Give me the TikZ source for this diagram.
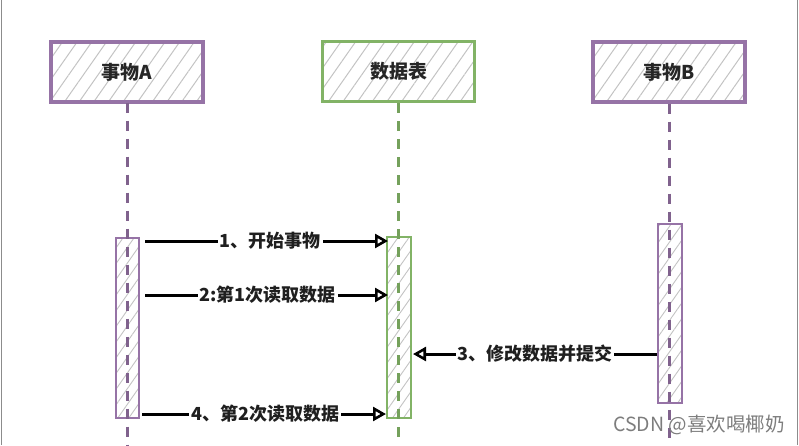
\documentclass[tikz,border=0pt]{standalone}
\usepackage{fontspec}
\newfontfamily\cjk{Noto Sans CJK SC}
\usetikzlibrary{arrows.meta,patterns.meta}
\definecolor{purp}{RGB}{150,115,166}
\definecolor{grn}{RGB}{130,179,102}
\definecolor{hatch}{RGB}{195,195,195}
\definecolor{wm}{RGB}{125,125,125}
\tikzset{
  hatched/.style={pattern={Lines[angle=55,distance=12pt,line width=1pt]},pattern color=hatch},
  hatchedsmall/.style={pattern={Lines[angle=55,distance=9pt,line width=0.9pt]},pattern color=hatch},
  headbox/.style={draw=#1,line width=3.2pt,hatched,minimum width=152pt,minimum height=60pt,
    inner sep=0pt,font=\cjk\bfseries\fontsize{19}{22}\selectfont,text=black!85},
  actbox/.style={draw=#1,line width=1.6pt,hatchedsmall,minimum width=23pt,inner sep=0pt},
  lifeline/.style={draw=#1,line width=3pt,dash pattern=on 10pt off 8pt},
  msg/.style={draw=black,line width=3pt,-{Triangle[open,length=13pt,width=14pt,line width=2.6pt,fill=white]}},
  msglabel/.style={fill=white,inner sep=2pt,text=black!88,font=\cjk\bfseries\fontsize{18}{21}\selectfont},
  border/.style={draw=black!45,line width=1pt}
}
\begin{document}
\begin{tikzpicture}[x=1pt,y=-1pt]
\useasboundingbox (0,0) rectangle (799,445);
% page edges
\coordinate (lt) at (1,0); \coordinate (lb) at (1,445);
\coordinate (rt) at (797.5,0); \coordinate (rb) at (797.5,445);
\draw[border] (lt) -- (lb);
\draw[border] (rt) -- (rb);
% head boxes
\node[headbox=purp] (A) at (127,72) {事物A};
\node[headbox=grn] (D) at (398.5,71.5) {数据表};
\node[headbox=purp] (B) at (669,72) {事物B};
% activation boxes
\node[actbox=purp,minimum height=180pt] (actA) at (127.5,328) {};
\node[actbox=grn,minimum width=24pt,minimum height=181pt] (actD) at (399,327.5) {};
\node[actbox=purp,minimum width=24pt,minimum height=179pt] (actB) at (670,313.5) {};
% lifelines
\coordinate (Aend) at (127,445);
\coordinate (Dend) at (398.5,445);
\coordinate (Bend) at (669,445);
\draw[lifeline=purp!85!black] (A.south) -- (Aend);
\draw[lifeline=grn!90!black] (D.south) -- (Dend);
\draw[lifeline=purp!85!black] (B.south) -- (Bend);
% messages
\coordinate (m1s) at (145,241); \coordinate (m1e) at (388,241);
\coordinate (m2s) at (145,295); \coordinate (m2e) at (388,295);
\coordinate (m3s) at (657,354); \coordinate (m3e) at (413,354);
\coordinate (m4s) at (142,414); \coordinate (m4e) at (386,414);
\draw[msg] (m1s) -- (m1e) node[msglabel,pos=0.515] (l1) {1、开始事物};
\draw[msg] (m2s) -- (m2e) node[msglabel,pos=0.505] (l2) {2:第1次读取数据};
\draw[msg] (m3s) -- (m3e) node[msglabel,pos=0.5] (l3) {3、修改数据并提交};
\draw[msg] (m4s) -- (m4e) node[msglabel,pos=0.505] (l4) {4、第2次读取数据};
% watermark
\node[anchor=west,inner sep=0pt,text=wm,font=\cjk\fontsize{19.5}{22}\selectfont] (wmk) at (613,425) {CSDN @喜欢喝椰奶};
\end{tikzpicture}
\end{document}
